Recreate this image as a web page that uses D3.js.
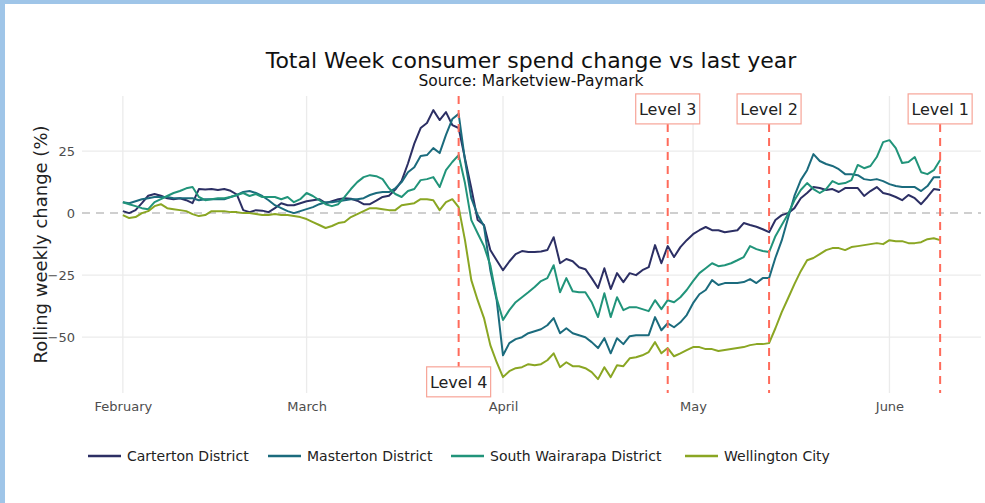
<!DOCTYPE html>
<html>
<head>
<meta charset="utf-8">
<script src="https://cdn.jsdelivr.net/npm/d3@7"></script>
<style>
  body { margin: 0; background: #fff; }
  svg text { font-family: 'DejaVu Sans', sans-serif; }
</style>
</head>
<body>
<svg id="chart" width="985" height="503"></svg>
<script>
// daily rolling weekly change (%), 1 Feb - 9 Jun 2020
const startDate = '2020-02-01'

const seriesNames = ['Carterton District', 'Masterton District', 'South Wairarapa District', 'Wellington City']
const seriesColors = ['#2c2f64', '#1b6b7d', '#21947a', '#8aa623']

const carterton = [
  0.8, 0, 1.2, 4, 7, 7.7, 7, 6, 5.6, 6, 5.2, 4, 9.7, 9.5, 9.7, 9.3, 9.7, 9, 7.5, 1.2,
  0.4, 1.2, 1, 0.4, 2, 4, 3.2, 3.2, 4, 4.8, 5.2, 5.6, 4, 4.8, 5.6, 6, 5.8, 5, 3.6, 3.6,
  5, 6.5, 7, 9.5, 13, 20, 28, 34.3, 36.3, 41.5, 37.5, 40.7, 35.5, 34.3, 22, 10, -2.8, -4.8, -14.9, -19,
  -23, -19.5, -16.5, -15.3, -15.7, -15.7, -15.5, -14.9, -9.7, -20.2, -18.5, -19.4, -21.8, -22.6, -26.2, -30.2, -22.2, -30.6, -24.2, -27.8,
  -24.2, -25, -23, -21.8, -12.9, -20.2, -13.3, -17.7, -13.7, -10.9, -8.5, -6.9, -5.6, -6.9, -6.9, -7.7, -7.3, -6.9, -4, -4.8,
  -5.5, -6.5, -7.7, -2.8, -0.8, 0, 2, 6, 8.1, 10.5, 10.1, 9.3, 9.7, 8.5, 10.1, 10.1, 10.1, 6.9, 8.9, 10.5,
  8.1, 7.5, 6.5, 5.2, 7.3, 6, 3.6, 6.5, 9.7, 9.3
]

const masterton = [
  4.4, 4, 4.8, 5.6, 6, 6.5, 6.5, 6.5, 6, 6, 6, 6, 5.2, 5.6, 5.6, 5.6, 5.6, 6.5, 7.3, 8.5,
  8.9, 8.1, 6.9, 5.2, 3.2, 2, 0.8, 0, 0.8, 1.6, 2.4, 3.6, 4.4, 4.4, 4.8, 5.2, 5.6, 5.6, 6, 7.3,
  8.1, 8.5, 8.5, 10, 12.5, 16.5, 18.5, 23, 23.4, 26.2, 24.2, 31.5, 37.9, 40, 21.4, 6, -0.8, -5.2, -23, -35,
  -57.3, -52.4, -50.8, -50, -48.4, -47.6, -46.8, -45.2, -42.3, -48.4, -46.4, -48.4, -49.2, -50, -52, -54.4, -50.4, -56.5, -50.4, -52.8,
  -49.6, -49.2, -49.2, -49.2, -41.9, -47.2, -44.4, -46, -44, -41.1, -36.3, -32.7, -31, -27, -29, -28.2, -28.2, -28.2, -27.8, -26.6,
  -28.2, -26.2, -26.2, -18, -11, -2, 6.9, 13.3, 17.3, 23.8, 21, 19.8, 19, 17.7, 15.7, 15.7, 15.3, 13.7, 13.3, 13.7,
  12.9, 11.7, 10.9, 10.5, 10.5, 10.5, 8.9, 10.9, 14.5, 14.5
]

const southWairarapa = [
  4.4, 3.6, 2.8, 2, 1.6, 4.4, 5.6, 6.9, 8.1, 8.9, 10, 10.5, 6.5, 5.2, 5.6, 6, 6, 6.5, 7.3, 8.1,
  6.9, 7.7, 6.5, 6.5, 6.5, 5.6, 6.5, 4.4, 5.6, 8.1, 6.9, 5.2, 3.6, 2.8, 3.6, 6.5, 9.7, 12.5, 14.5, 15.3,
  14.9, 13.7, 10, 7.7, 6.5, 8.9, 9.7, 13.3, 13.7, 14.5, 10.5, 17.3, 20.6, 23.4, 12.1, -2.8, -8.1, -13.3, -21, -34.3,
  -43.1, -39.1, -35.9, -33.9, -31.9, -29.8, -27.4, -26.2, -21, -31.9, -26.2, -31.5, -31.9, -31.9, -35.9, -41.9, -32.3, -41.9, -33.9, -39.1,
  -37.9, -37.9, -38.7, -39.5, -35.1, -38.7, -35.1, -35.9, -33.9, -31, -27.4, -24.2, -22.2, -20.2, -21.4, -21, -20.2, -19, -17.7, -13.3,
  -14.5, -15.3, -15.7, -9.3, -4.8, -0.4, 5.2, 9.3, 12.1, 9.7, 8.1, 9.7, 12.9, 11.7, 12.1, 13.3, 19.4, 18.1, 19, 22.6,
  28.6, 29.4, 26.2, 20.2, 20.6, 22.6, 16.5, 15.7, 17.3, 21.4
]

const wellington = [
  -0.8, -2, -1.6, 0, 0.8, 2.8, 3.6, 2, 1.6, 1.2, 0.8, -0.4, -1.2, -0.8, 0.8, 0.8, 0.8, 0.4, 0.4, 0,
  0, -0.4, -0.8, -0.8, -0.4, -0.8, -0.8, -1.2, -1.6, -2.4, -3.6, -4.8, -6, -5.2, -4, -3.6, -1.6, -0.4, 0.8, 2,
  2, 1.6, 1.2, 1.2, 3.2, 3.6, 4, 5.6, 5.6, 5.2, 1.2, 4.4, 5.6, 2.4, -10.9, -27, -35.1, -42.3, -53.2, -60.1,
  -66.1, -63.7, -62.5, -62.1, -60.9, -61.3, -60.9, -59.3, -56.5, -62.1, -60.1, -61.7, -61.7, -62.5, -64.1, -66.9, -62.1, -66.1, -61.3, -61.7,
  -58.5, -58.1, -57.3, -56, -52, -56.5, -54.4, -57.7, -56.5, -55.2, -54, -54, -54.8, -54.8, -55.6, -55.2, -54.8, -54.4, -54, -53.2,
  -52.8, -52.8, -52.4, -46.4, -39.9, -34.3, -28.6, -23.4, -19, -18.1, -16.5, -14.9, -14.1, -14.1, -14.9, -13.7, -13.3, -12.9, -12.5, -12.1,
  -12.5, -10.9, -11.3, -11.3, -12.1, -12.1, -11.7, -10.5, -10.1, -10.9
]

const seriesValues = [carterton, masterton, southWairarapa, wellington]

const levelNames = ['Level 4', 'Level 3', 'Level 2', 'Level 1']
const levelDates = ['2020-03-25', '2020-04-27', '2020-05-13', '2020-06-09']
const levelLabelY = [-68, 42, 42, 42]

const yTicks = [-50, -25, 0, 25]
const monthTicks = ['2020-02-01', '2020-03-01', '2020-04-01', '2020-05-01', '2020-06-01']
const monthLabels = ['February', 'March', 'April', 'May', 'June']

const parse = d3.utcParse('%Y-%m-%d')
const start = parse(startDate)
const series = seriesNames.map((name, i) => ({
  name,
  color: seriesColors[i],
  values: seriesValues[i].map((v, d) => ({ date: d3.utcDay.offset(start, d), v }))
}))

const svg = d3.select('#chart')
const W = +svg.attr('width')
const H = +svg.attr('height')
const margin = { top: 96, right: 4, bottom: 110, left: 82 }
const width = W - margin.left - margin.right
const height = H - margin.top - margin.bottom

// frame edges seen on the screenshot
svg.append('rect').attr('width', W).attr('height', H).attr('fill', '#fff')
svg.append('rect').attr('width', W).attr('height', 4).attr('fill', '#9fc5e8')
svg.append('rect').attr('width', 5).attr('height', H).attr('fill', '#9fc5e8')

const allDates = series[0].values.map(d => d.date)
const [d0, d1] = d3.extent(allDates)
const pad = (d1 - d0) * 0.05
const x = d3.scaleUtc()
  .domain([new Date(+d0 - pad), new Date(+d1 + pad)])
  .range([0, width])
const y = d3.scaleLinear().domain([-72.5, 47.2]).range([height, 0])

const g = svg.append('g').attr('transform', `translate(${margin.left},${margin.top})`)

// grid
g.append('g')
  .selectAll('line')
  .data(yTicks.filter(t => t !== 0))
  .join('line')
  .attr('x1', 0)
  .attr('x2', width)
  .attr('y1', d => y(d))
  .attr('y2', d => y(d))
  .attr('stroke', '#ebebeb')
  .attr('stroke-width', 1.3)

g.append('g')
  .selectAll('line')
  .data(monthTicks.map(parse))
  .join('line')
  .attr('x1', d => x(d))
  .attr('x2', d => x(d))
  .attr('y1', 0)
  .attr('y2', height)
  .attr('stroke', '#ebebeb')
  .attr('stroke-width', 1.3)

// zero line
g.append('line')
  .attr('x1', 0)
  .attr('x2', width)
  .attr('y1', y(0))
  .attr('y2', y(0))
  .attr('stroke', '#cfcfcf')
  .attr('stroke-width', 2)
  .attr('stroke-dasharray', '8,6')

// axes (text only, like plotly)
const yAxis = g.append('g').call(d3.axisLeft(y).tickValues(yTicks).tickSize(0).tickPadding(7))
yAxis.select('.domain').remove()
yAxis.selectAll('text').attr('font-size', 13).attr('fill', '#4d4d4d')
  .style('font-family', "'DejaVu Sans', sans-serif")

const xAxis = g.append('g')
  .attr('transform', `translate(0,${height})`)
  .call(d3.axisBottom(x).tickValues(monthTicks.map(parse)).tickFormat((d, i) => monthLabels[i]).tickSize(0).tickPadding(9))
xAxis.select('.domain').remove()
xAxis.selectAll('text').attr('font-size', 13).attr('fill', '#4d4d4d')
  .style('font-family', "'DejaVu Sans', sans-serif")

// series
const line = d3.line().x(d => x(d.date)).y(d => y(d.v))
g.append('g')
  .selectAll('path')
  .data(series)
  .join('path')
  .attr('fill', 'none')
  .attr('stroke', d => d.color)
  .attr('stroke-width', 2)
  .attr('stroke-linejoin', 'round')
  .attr('d', d => line(d.values))

// alert level markers
const levels = levelNames.map((name, i) => ({ name, date: parse(levelDates[i]), ly: levelLabelY[i] }))
g.append('g')
  .selectAll('line')
  .data(levels)
  .join('line')
  .attr('x1', d => x(d.date))
  .attr('x2', d => x(d.date))
  .attr('y1', 0)
  .attr('y2', height)
  .attr('stroke', '#ff6b5b')
  .attr('stroke-width', 2)
  .attr('stroke-dasharray', '8,6')

const lab = g.append('g')
  .selectAll('g')
  .data(levels)
  .join('g')
  .attr('transform', d => `translate(${x(d.date)},${y(d.ly)})`)
lab.append('rect')
  .attr('x', -32)
  .attr('y', -15)
  .attr('width', 64)
  .attr('height', 30)
  .attr('fill', '#fff')
  .attr('stroke', '#f7a497')
  .attr('stroke-width', 1.2)
lab.append('text')
  .attr('text-anchor', 'middle')
  .attr('dy', '0.36em')
  .attr('font-size', 16)
  .attr('fill', '#222')
  .text(d => d.name)

// titles
svg.append('text')
  .attr('x', 531)
  .attr('y', 68)
  .attr('text-anchor', 'middle')
  .attr('font-size', 22)
  .attr('fill', '#111')
  .text('Total Week consumer spend change vs last year')
svg.append('text')
  .attr('x', 531)
  .attr('y', 86)
  .attr('text-anchor', 'middle')
  .attr('font-size', 15.5)
  .attr('fill', '#111')
  .text('Source: Marketview-Paymark')
svg.append('text')
  .attr('transform', `translate(47,${margin.top + height / 2}) rotate(-90)`)
  .attr('text-anchor', 'middle')
  .attr('font-size', 18)
  .attr('fill', '#222')
  .text('Rolling weekly change (%)')

// legend
const legendX = [88, 268, 451, 685]
const leg = svg.append('g')
  .selectAll('g')
  .data(series)
  .join('g')
  .attr('transform', (d, i) => `translate(${legendX[i]},456)`)
leg.append('line')
  .attr('x1', 0)
  .attr('x2', 33)
  .attr('stroke', d => d.color)
  .attr('stroke-width', 2.5)
leg.append('text')
  .attr('x', 39)
  .attr('dy', '0.35em')
  .attr('font-size', 14)
  .attr('fill', '#222')
  .text(d => d.name)
</script>
</body>
</html>
